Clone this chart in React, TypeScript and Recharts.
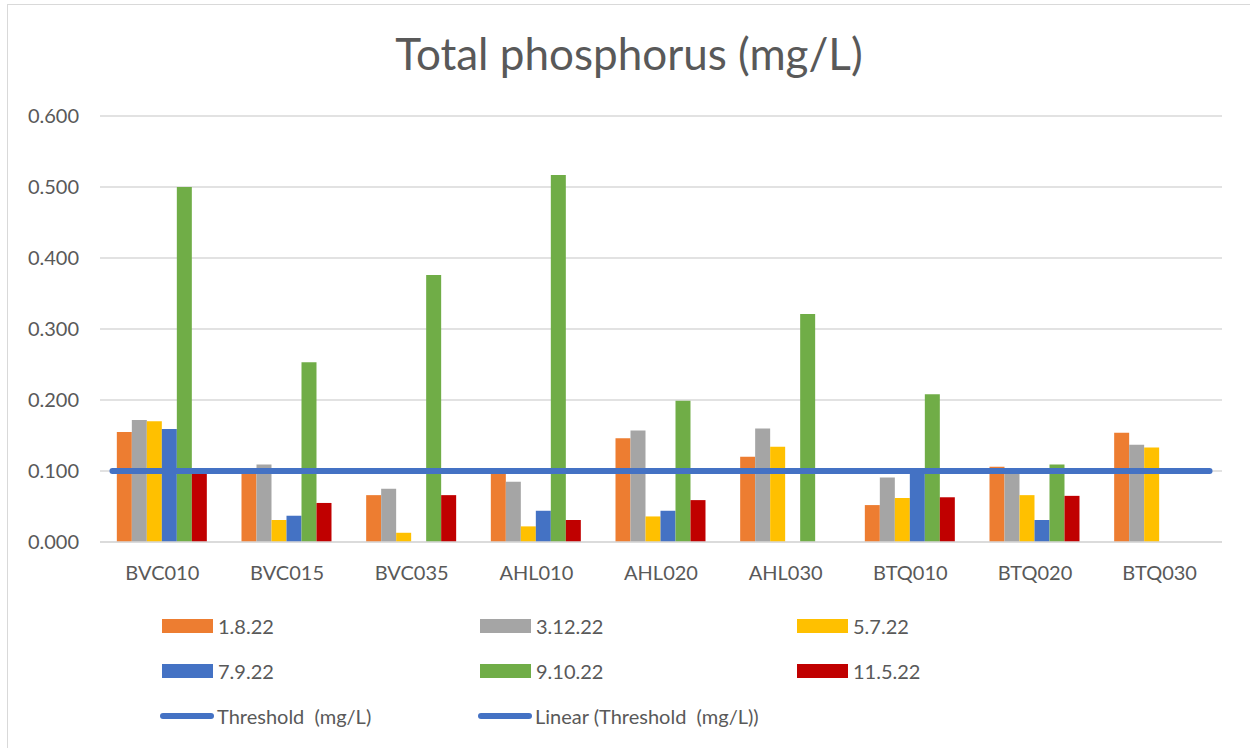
import React from 'react';
import { ComposedChart, Bar, Line, XAxis, YAxis, CartesianGrid, ReferenceLine } from 'recharts';

// Datos
const categories = ['BVC010', 'BVC015', 'BVC035', 'AHL010', 'AHL020', 'AHL030', 'BTQ010', 'BTQ020', 'BTQ030'];
const d1_8_22 = [0.155, 0.098, 0.066, 0.097, 0.146, 0.120, 0.052, 0.106, 0.154];
const d3_12_22 = [0.172, 0.109, 0.075, 0.085, 0.157, 0.160, 0.091, 0.096, 0.137];
const d5_7_22 = [0.170, 0.031, 0.013, 0.022, 0.036, 0.134, 0.062, 0.066, 0.133];
const d7_9_22 = [0.159, 0.037, null, 0.044, 0.044, null, 0.102, 0.031, null];
const d9_10_22 = [0.500, 0.253, 0.376, 0.517, 0.199, 0.321, 0.208, 0.109, null];
const d11_5_22 = [0.103, 0.055, 0.066, 0.031, 0.059, null, 0.063, 0.065, null];
const threshold = [0.1, 0.1, 0.1, 0.1, 0.1, 0.1, 0.1, 0.1, 0.1];
const yTicks = [0, 0.1, 0.2, 0.3, 0.4, 0.5, 0.6];
// linear trendline forecast (periods backward / forward)
const trendBackward = 0.4;
const trendForward = 0.4;

const BAR_SERIES = [
  { key: 'd1', name: '1.8.22', color: '#ED7D31', values: d1_8_22 },
  { key: 'd2', name: '3.12.22', color: '#A5A5A5', values: d3_12_22 },
  { key: 'd3', name: '5.7.22', color: '#FFC000', values: d5_7_22 },
  { key: 'd4', name: '7.9.22', color: '#4472C4', values: d7_9_22 },
  { key: 'd5', name: '9.10.22', color: '#70AD47', values: d9_10_22 },
  { key: 'd6', name: '11.5.22', color: '#C00000', values: d11_5_22 },
];

const LINE_COLOR = '#4472C4';
const TEXT = '#595959';
const FONT = 'Lato, "Open Sans", sans-serif';

const data = categories.map((c, i) => {
  const row: any = { name: c, idx: i, threshold: threshold[i] };
  BAR_SERIES.forEach(s => { row[s.key] = s.values[i]; });
  return row;
});

// 3 columnas de leyenda
const legendItems = [
  ...BAR_SERIES.map(s => ({ name: s.name, color: s.color, type: 'rect' })),
  { name: 'Threshold  (mg/L)', color: LINE_COLOR, type: 'line' },
  { name: 'Linear (Threshold  (mg/L))', color: LINE_COLOR, type: 'line' },
];

function LegendBlock() {
  return (
    <div style={{ position: 'absolute', left: 162, top: 603, display: 'grid', gridTemplateColumns: '318px 317px 300px', fontFamily: FONT, fontSize: 20, color: TEXT }}>
      {legendItems.map(it => (
        <div key={it.name} style={{ display: 'flex', alignItems: 'center', height: 45, whiteSpace: 'pre' }}>
          {it.type === 'rect'
            ? <span style={{ display: 'inline-block', width: 51, height: 14, background: it.color, marginRight: 5 }} />
            : <span style={{ display: 'inline-block', width: 54, height: 6, borderRadius: 3, background: it.color, marginRight: 3, marginLeft: -2 }} />}
          <span>{it.name}</span>
        </div>
      ))}
    </div>
  );
}

export default function App() {
  return (
    <div style={{ position: 'absolute', left: 0, top: 0, width: 1250, height: 748, overflow: 'hidden', background: '#fff' }}>
      <div style={{ position: 'absolute', left: 7, top: 4, width: 1300, height: 800, border: '1.5px solid #D9D9D9' }} />
      <div style={{ position: 'absolute', left: 0, top: 27, width: 1258, textAlign: 'center', fontFamily: FONT, fontSize: 44, color: TEXT }}>
        Total phosphorus (mg/L)
      </div>
      <div style={{ position: 'absolute', left: 0, top: 0 }}>
        <ComposedChart width={1250} height={748} data={data} margin={{ top: 116, right: 28, left: 0, bottom: 166 }}
          barCategoryGap="13.5%" barGap={0}>
          <CartesianGrid vertical={false} stroke="#D9D9D9" strokeWidth={1.5} />
          <XAxis dataKey="name" height={40} axisLine={{ stroke: '#D9D9D9', strokeWidth: 1.5 }} tickLine={false} tickSize={0} tickMargin={24}
            tick={{ fill: TEXT, fontSize: 20, fontFamily: FONT }} />
          <XAxis xAxisId="trend" dataKey="idx" type="number" domain={[-0.5, categories.length - 0.5]} allowDataOverflow hide />
          <YAxis width={100} domain={[0, 0.6]} ticks={yTicks} axisLine={false} tickLine={false} tickSize={0} tickMargin={21}
            tickFormatter={(v: number) => v.toFixed(3)} tick={{ fill: TEXT, fontSize: 20, fontFamily: FONT }} />
          {BAR_SERIES.map(s => (
            <Bar key={s.key} dataKey={s.key} name={s.name} fill={s.color} isAnimationActive={false} />
          ))}
          <Line dataKey="threshold" stroke={LINE_COLOR} strokeWidth={6} dot={false} strokeLinecap="round" isAnimationActive={false} />
          <ReferenceLine xAxisId="trend" stroke={LINE_COLOR} strokeWidth={6} strokeLinecap="round" ifOverflow="visible"
            segment={[{ x: -trendBackward, y: threshold[0] }, { x: categories.length - 1 + trendForward, y: threshold[threshold.length - 1] }]} />
        </ComposedChart>
      </div>
      <LegendBlock />
    </div>
  );
}
